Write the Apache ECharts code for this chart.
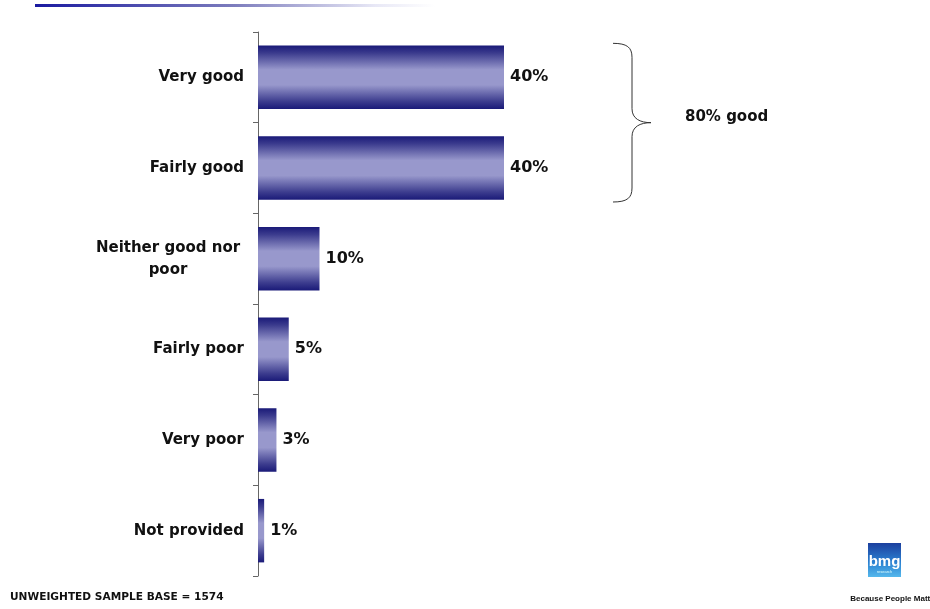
<!DOCTYPE html>
<html><head><meta charset="utf-8">
<script src="https://cdn.jsdelivr.net/npm/echarts@6/dist/echarts.min.js"></script>
<style>html,body{margin:0;padding:0;background:#fff}#c{width:930px;height:609px}</style>
</head><body><div id="c"></div>
<script>
const categories = ['Very good', 'Fairly good', 'Neither good nor poor', 'Fairly poor', 'Very poor', 'Not provided'];
const values = [40, 40, 10, 5, 3, 1];
const groupLabel = '80% good';
const baseNote = 'UNWEIGHTED SAMPLE BASE = 1574';
const tagline = 'Because People Matter';

const chart = echarts.init(document.getElementById('c'));
const FONT = 'DejaVu Sans';
const barGrad = new echarts.graphic.LinearGradient(0, 0, 0, 1, [
  {offset: 0, color: '#1a1a78'},
  {offset: 0.12, color: '#3c3c8e'},
  {offset: 0.38, color: '#9898cc'},
  {offset: 0.62, color: '#9898cc'},
  {offset: 0.88, color: '#3c3c8e'},
  {offset: 1, color: '#1a1a78'}
]);

chart.setOption({
  animation: false,
  grid: {left: 258, right: 57, top: 32, bottom: 33},
  xAxis: {type: 'value', min: 0, max: 100, show: false},
  yAxis: {
    type: 'category', inverse: true, data: categories,
    axisLine: {lineStyle: {color: '#666', width: 1}},
    axisTick: {show: true, length: 5, lineStyle: {color: '#666'}},
    axisLabel: {
      margin: 14, fontFamily: FONT, fontWeight: 'bold', fontSize: 15, color: '#111',
      formatter: function (v) {
        if (v === 'Neither good nor poor') return '{c|Neither good nor}\n{c|poor}';
        return v;
      },
      rich: {c: {width: 152, align: 'center', fontFamily: FONT, fontWeight: 'bold', fontSize: 15, color: '#111', lineHeight: 22}}
    }
  },
  series: [{
    type: 'bar', data: values, barWidth: '70%',
    itemStyle: {color: barGrad},
    label: {show: true, position: 'right', distance: 6, formatter: '{c}%',
      fontFamily: FONT, fontWeight: 'bold', fontSize: 16, color: '#111'}
  }]
});

// Brace annotation spanning first two categories
const yTop = chart.convertToPixel({yAxisIndex: 0}, 0) - 34;
const yBot = chart.convertToPixel({yAxisIndex: 0}, 1) + 34;
const yMid = (yTop + yBot) / 2;
const bx = 632, r = 14;
const braceStyle = {fill: null, stroke: '#333', lineWidth: 1};
function curve(x1, y1, x2, y2, cx1, cy1, cx2, cy2) {
  return {type: 'bezierCurve', shape: {x1, y1, x2, y2, cpx1: cx1, cpy1: cy1, cpx2: cx2, cpy2: cy2}, style: braceStyle};
}

chart.setOption({
  graphic: [
    {type: 'rect', shape: {x: 35, y: 4, width: 400, height: 3},
      style: {fill: new echarts.graphic.LinearGradient(0, 0, 1, 0, [
        {offset: 0, color: '#1a1aa0'}, {offset: 0.5, color: '#7d7dbd'}, {offset: 0.85, color: '#e8e8f6'}, {offset: 1, color: '#ffffff'}])}},
    curve(bx - 19, yTop, bx, yTop + r, bx - 5, yTop, bx, yTop + 4),
    {type: 'line', shape: {x1: bx, y1: yTop + r, x2: bx, y2: yMid - r}, style: braceStyle},
    curve(bx, yMid - r, bx + 19, yMid, bx, yMid - 4, bx + 8, yMid),
    curve(bx + 19, yMid, bx, yMid + r, bx + 8, yMid, bx, yMid + 4),
    {type: 'line', shape: {x1: bx, y1: yMid + r, x2: bx, y2: yBot - r}, style: braceStyle},
    curve(bx, yBot - r, bx - 19, yBot, bx, yBot - 4, bx - 5, yBot),
    {type: 'text', x: 685, y: yMid - 6, style: {text: groupLabel, fontFamily: FONT, fontWeight: 'bold', fontSize: 15, fill: '#111', verticalAlign: 'middle'}},
    {type: 'text', x: 10, y: 597, style: {text: baseNote, fontFamily: FONT, fontWeight: 'bold', fontSize: 10.6, fill: '#111', verticalAlign: 'middle'}},
    {type: 'rect', shape: {x: 868, y: 543, width: 33, height: 34},
      style: {fill: new echarts.graphic.LinearGradient(0, 0, 0, 1, [
        {offset: 0, color: '#1c3f9e'}, {offset: 0.55, color: '#2a7fd0'}, {offset: 1, color: '#55b8ec'}])}},
    {type: 'text', x: 884.5, y: 569, style: {text: 'bmg', fontFamily: 'Liberation Sans', fontWeight: 'bold', fontSize: 15, fill: '#fff', align: 'center', verticalAlign: 'bottom'}},
    {type: 'text', x: 884.5, y: 572, style: {text: 'research', fontFamily: 'Liberation Sans', fontSize: 4, fill: '#dff', align: 'center', verticalAlign: 'middle'}},
    {type: 'text', x: 894, y: 599, style: {text: tagline, fontFamily: 'Liberation Sans', fontWeight: 'bold', fontSize: 8, fill: '#111', align: 'center', verticalAlign: 'middle'}}
  ]
});
</script>
</body></html>
